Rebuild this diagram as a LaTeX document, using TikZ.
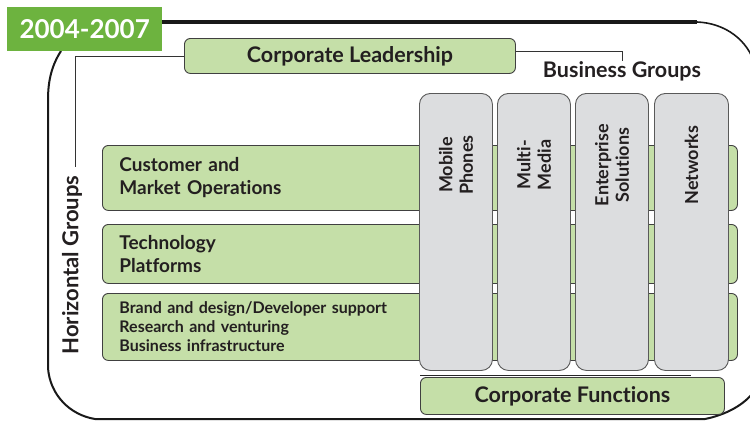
\documentclass[tikz,border=0pt]{standalone}
\usepackage{fontspec}
\setmainfont{Lato}[Ligatures={NoCommon,NoRare}]
\definecolor{lgreen}{HTML}{C5DFA8}
\definecolor{dgreen}{HTML}{6DB33F}
\definecolor{gbox}{HTML}{DCDDDF}
\definecolor{txt}{HTML}{231F20}
\tikzset{
  greenbox/.style={draw=black!75, fill=lgreen, line width=0.9pt, rounded corners=6pt, text=txt, font=\bfseries},
  graybox/.style={draw=black!65, fill=gbox, line width=0.9pt, rounded corners=11pt},
  vtext/.style={rotate=90, align=center, text=txt, font=\fontsize{18}{20.5}\selectfont\bfseries},
  frame/.style={line width=2pt, black!90},
  link/.style={line width=0.8pt, black!80}
}
\begin{document}
\begin{tikzpicture}[x=1pt,y=-1pt]
\useasboundingbox (0,0) rectangle (750,421);
\begin{scope}
\clip (0,0) rectangle (750,421);
% outer frame
\draw[line width=3.5pt, black!90] (160,22) -- (697,22);
\draw[frame, line width=1.6pt] (697,22) .. controls (725,23) and (748,40) .. (755,65);
\draw[frame] (61,51) .. controls (52,65) and (48,80) .. (48,100) -- (48,368)
  .. controls (50,395) and (70,415) .. (95,419) -- (705,419)
  .. controls (725,415) and (745,405) .. (755,390);
\end{scope}

% label
\node[fill=dgreen, minimum width=155, minimum height=44, anchor=north west, inner sep=0,
  text=white, font=\fontsize{26}{28}\selectfont\bfseries] (yr) at (7,7) {2004-2007};

% corporate leadership
\node[greenbox, minimum width=331, minimum height=35, anchor=north west, inner sep=0,
  font=\fontsize{21.5}{24}\selectfont\bfseries] (cl) at (184,38) {Corporate Leadership};

\node[text=txt, font=\fontsize{21.5}{24}\selectfont\bfseries, inner sep=0pt] (bg) at (622,71) {Business Groups};
\node[rotate=90, text=txt, font=\fontsize{22}{24}\selectfont\bfseries, inner sep=0pt] (hg) at (72,265) {Horizontal Groups};

\draw[link] (cl.west) -| ([yshift=8pt]hg.east -| 75,0);
\draw[link] ([yshift=5pt]cl.east) -| (bg.north);

% horizontal rows
\node[greenbox, minimum width=635, minimum height=65, text width=601, inner xsep=17, inner ysep=0,
  align=left, anchor=north west, font=\fontsize{19}{23}\selectfont\bfseries] (r1) at (102,145)
  {Customer and\\Market Operations};
\node[greenbox, minimum width=635, minimum height=59, text width=601, inner xsep=17, inner ysep=0,
  align=left, anchor=north west, font=\fontsize{19}{23}\selectfont\bfseries] (r2) at (102,224)
  {Technology\\Platforms};
\node[greenbox, minimum width=635, minimum height=67, text width=601, inner xsep=17, inner ysep=0,
  align=left, anchor=north west, font=\fontsize{16}{19}\selectfont\bfseries] (r3) at (102,293)
  {Brand and design/Developer support\\Research and venturing\\Business infrastructure};

% business group columns
\node[graybox, minimum width=73, minimum height=277, anchor=north west, inner sep=0] (c1) at (419,93) {};
\node[graybox, minimum width=73, minimum height=277, anchor=north west, inner sep=0] (c2) at (497,93) {};
\node[graybox, minimum width=73, minimum height=277, anchor=north west, inner sep=0] (c3) at (575,93) {};
\node[graybox, minimum width=74, minimum height=277, anchor=north west, inner sep=0] (c4) at (654,93) {};

\node[vtext] (t1) at (c1.center |- 0,165) {Mobile\\Phones};
\node[vtext] (t2) at (c2.center |- 0,165) {Multi-\\Media};
\node[vtext] (t3) at (c3.center |- 0,165) {Enterprise\\Solutions};
\node[vtext] (t4) at (c4.center |- 0,165) {Networks};

% corporate functions
\node[greenbox, minimum width=304, minimum height=37, anchor=north west, inner sep=0,
  font=\fontsize{21.5}{24}\selectfont\bfseries] (cf) at (420,377) {Corporate Functions};
\draw[line width=1.2pt, black!85] (cf.north west) ++(0,-1.5) coordinate (cfa) -- (cfa -| c4.center);
\end{tikzpicture}
\end{document}
